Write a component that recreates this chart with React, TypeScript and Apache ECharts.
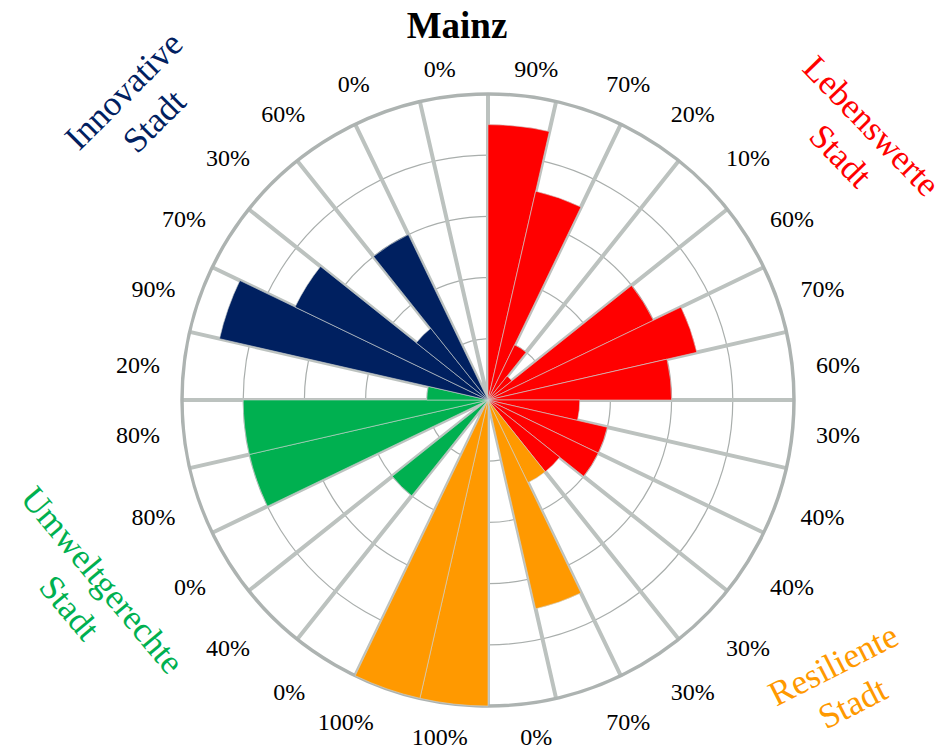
import React, { useEffect, useRef } from "react";
import * as echarts from "echarts";

// Angle-axis tick labels, clockwise from 12 o'clock
const tickLabels = [
  "90%", "70%", "20%", "10%", "60%", "70%", "60%", "30%", "40%", "40%", "30%",
  "30%", "70%", "0%", "100%", "100%",
  "0%", "40%", "0%", "80%", "80%", "20%",
  "90%", "70%", "30%", "60%", "0%", "0%",
];

// Values per group (percent), clockwise order
const lebenswerte = [90, 70, 20, 10, 60, 70, 60, 30, 40, 40, 30];
const resiliente = [30, 70, 0, 100, 100];
const umweltgerechte = [0, 40, 0, 80, 80, 20];
const innovative = [90, 70, 30, 60, 0, 0];

const groupNames = ["Lebenswerte\nStadt", "Resiliente\nStadt", "Umweltgerechte\nStadt", "Innovative\nStadt"];
const groupColors = ["#ff0000", "#ff9900", "#00b050", "#002060"];
const groupValues = [lebenswerte, resiliente, umweltgerechte, innovative];

const FONT = '"Liberation Serif", "Times New Roman", serif';
const CX = 488;
const CY = 400;
const R = 306;
const LABEL_SIZE = 24;
const LABEL_LH = 14;
const MARGIN = 8;

export default function App() {
  const ref = useRef<HTMLDivElement>(null);

  useEffect(() => {
    if (!ref.current) return;
    const chart = echarts.init(ref.current, undefined, { renderer: "svg" });

    const data: any[] = [];
    groupValues.forEach((vals, g) => {
      vals.forEach((v) => {
        data.push({ value: v, itemStyle: { color: groupColors[g] } });
      });
    });

    // label placement: Excel-like offset from the outer ring, realised via padding
    const canvas = document.createElement("canvas");
    const ctx = canvas.getContext("2d")!;
    ctx.font = `${LABEL_SIZE}px ${FONT}`;
    const n = tickLabels.length;
    const angleData = tickLabels.map((t, k) => {
      const th = ((k + 0.5) * 2 * Math.PI) / n;
      const s = Math.sin(th);
      const c = Math.cos(th);
      const w = ctx.measureText(t).width;
      const ox = Math.sign(s) * Math.min(125 * Math.abs(s), w / 2 + 24 * Math.pow(Math.abs(s), 0.3));
      const oy = -Math.sign(c) * Math.min(40 * Math.abs(c), 30) + 3;
      const hAlign = (Math.abs((R + MARGIN) * s) / R) < 0.3 ? "center" : s > 0 ? "left" : "right";
      const vAlign = (Math.abs((R + MARGIN) * c) / R) < 0.3 ? "middle" : c < 0 ? "top" : "bottom";
      let pl = 0, pr = 0, pt = 0, pb = 0;
      if (hAlign === "center") {
        const shift = ox - MARGIN * s;
        if (shift > 0) pl = 2 * shift; else pr = -2 * shift;
      } else {
        const p = Math.abs(ox) - MARGIN * Math.abs(s) - w / 2;
        if (hAlign === "left") pl = Math.max(0, p); else pr = Math.max(0, p);
      }
      if (vAlign === "middle") {
        const shift = MARGIN * c + oy;
        if (shift > 0) pt = 2 * shift; else pb = -2 * shift;
      } else if (vAlign === "bottom") {
        pb = Math.max(0, -MARGIN * c - LABEL_LH / 2 - oy);
      } else {
        pt = Math.max(0, oy - MARGIN * Math.abs(c) - LABEL_LH / 2);
      }
      return { value: "c" + k, textStyle: { padding: [pt, pr, pb, pl] } };
    });

    const labelPlacement = [
      { x: 856, y: 141, rot: -46 },
      { x: 843, y: 684, rot: 27 },
      { x: 86, y: 594, rot: -50 },
      { x: 139, y: 106, rot: 45 },
    ];

    const option: any = {
      animation: false,
      polar: { center: [CX, CY], radius: R },
      angleAxis: {
        type: "category",
        data: angleData,
        startAngle: 90,
        clockwise: true,
        boundaryGap: true,
        axisLine: { show: true, lineStyle: { color: "#adb3b1", width: 3.5 } },
        axisTick: { show: false },
        axisLabel: {
          show: true,
          interval: 0,
          margin: MARGIN,
          color: "#000",
          fontFamily: FONT,
          fontSize: LABEL_SIZE,
          lineHeight: LABEL_LH,
          formatter: (_v: string, i: number) => tickLabels[i],
        },
        splitLine: { show: true, lineStyle: { color: "#bcc2bf", width: 4 } },
      },
      radiusAxis: {
        type: "value",
        min: 0,
        max: 100,
        interval: 20,
        axisLine: { show: false },
        axisTick: { show: false },
        axisLabel: { show: false },
        splitLine: { show: true, lineStyle: { color: "#a9aeac", width: 1.2 } },
      },
      series: [
        {
          type: "bar",
          coordinateSystem: "polar",
          data,
          barCategoryGap: "0%",
          itemStyle: { borderColor: "#cfd3d1", borderWidth: 0.6 },
        },
      ],
      graphic: [
        {
          type: "text",
          x: 457,
          y: 25,
          style: {
            text: "Mainz",
            fill: "#000",
            font: `bold 37px ${FONT}`,
            textAlign: "center",
            textVerticalAlign: "middle",
          },
        },
        ...groupNames.map((name, g) => ({
          type: "text",
          x: labelPlacement[g].x,
          y: labelPlacement[g].y,
          rotation: (labelPlacement[g].rot * Math.PI) / 180,
          style: {
            text: name,
            fill: groupColors[g],
            font: `35px ${FONT}`,
            lineHeight: 43,
            textAlign: "center",
            textVerticalAlign: "middle",
          },
        })),
      ],
    };

    chart.setOption(option);
    return () => chart.dispose();
  }, []);

  return (
    <div
      ref={ref}
      style={{ position: "absolute", left: 0, top: 0, width: 948, height: 749, background: "#fff" }}
    />
  );
}
